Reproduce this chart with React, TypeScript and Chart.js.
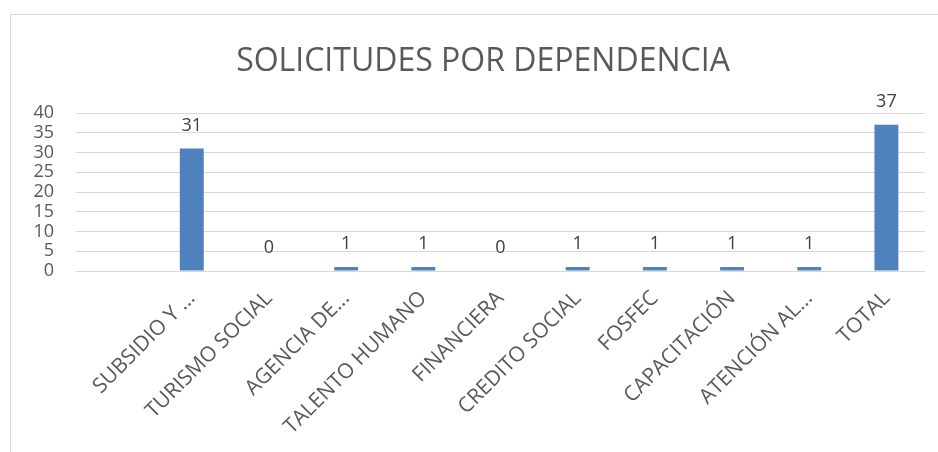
import React, { useEffect, useRef } from "react";
import { Chart, registerables } from "chart.js";

Chart.register(...registerables);

const TITLE = "SOLICITUDES POR DEPENDENCIA";
const categories: string[] = [
  "",
  "SUBSIDIO Y ...",
  "TURISMO SOCIAL",
  "AGENCIA DE...",
  "TALENTO HUMANO",
  "FINANCIERA",
  "CREDITO SOCIAL",
  "FOSFEC",
  "CAPACITACIÓN",
  "ATENCIÓN AL...",
  "TOTAL",
];
const values: (number | null)[] = [null, 31, 0, 1, 1, 0, 1, 1, 1, 1, 37];
const Y_MIN = 0;
const Y_MAX = 40;
const Y_STEP = 5;

const FONT = "'Open Sans', sans-serif";

const decorPlugin = {
  id: "decor",
  beforeDraw(chart: any) {
    const ctx = chart.ctx;
    ctx.save();
    ctx.fillStyle = "#ffffff";
    ctx.fillRect(0, 0, chart.width, chart.height);
    ctx.strokeStyle = "#d9d9d9";
    ctx.lineWidth = 1;
    ctx.beginPath();
    ctx.moveTo(10.5, chart.height + 5);
    ctx.lineTo(10.5, 14.5);
    ctx.lineTo(chart.width + 5, 14.5);
    ctx.stroke();
    ctx.fillStyle = "#595959";
    ctx.font = `32px ${FONT}`;
    ctx.textAlign = "center";
    ctx.textBaseline = "alphabetic";
    ctx.fillText(TITLE, 483, 71);
    ctx.restore();
  },
  afterDatasetsDraw(chart: any) {
    const ctx = chart.ctx;
    const meta = chart.getDatasetMeta(0);
    ctx.save();
    ctx.fillStyle = "#404040";
    ctx.font = `18px ${FONT}`;
    ctx.textAlign = "center";
    ctx.textBaseline = "alphabetic";
    meta.data.forEach((bar: any, i: number) => {
      const v = values[i];
      if (v === null || v === undefined) return;
      ctx.fillText(String(v), bar.x, bar.y - 18);
    });
    ctx.restore();
  },
};

export default function App() {
  const ref = useRef<HTMLCanvasElement | null>(null);
  useEffect(() => {
    if (!ref.current) return;
    const chart = new Chart(ref.current, {
      type: "bar",
      data: {
        labels: categories,
        datasets: [
          {
            data: values,
            backgroundColor: "#4f81bd",
            borderWidth: 0,
            barPercentage: 0.31,
            categoryPercentage: 1,
          },
        ],
      },
      options: {
        animation: false,
        responsive: false,
        maintainAspectRatio: false,
        layout: { padding: { left: 0, right: 13, top: 113, bottom: 0 } },
        plugins: {
          legend: { display: false },
          title: { display: false },
          tooltip: { enabled: false },
        },
        scales: {
          x: {
            grid: { display: false, drawTicks: false },
            border: { display: false },
            ticks: {
              autoSkip: false,
              minRotation: 45,
              maxRotation: 45,
              padding: 15,
              color: "#595959",
              font: { family: FONT, size: 21 },
            },
            afterFit(scale: any) {
              scale.height = 181;
            },
          },
          y: {
            min: Y_MIN,
            max: Y_MAX,
            grid: { color: "#d9d9d9", lineWidth: 1, drawTicks: false },
            border: { display: false },
            ticks: {
              autoSkip: false,
              stepSize: Y_STEP,
              padding: 22,
              color: "#595959",
              font: { family: FONT, size: 18, lineHeight: 1 },
            },
            afterFit(scale: any) {
              scale.width = 76;
            },
          },
        },
      },
      plugins: [decorPlugin],
    });
    return () => chart.destroy();
  }, []);
  return (
    <div style={{ position: "fixed", left: 0, top: 0, width: 938, height: 452, background: "#fff" }}>
      <canvas ref={ref} width={938} height={452} style={{ display: "block" }} />
    </div>
  );
}
